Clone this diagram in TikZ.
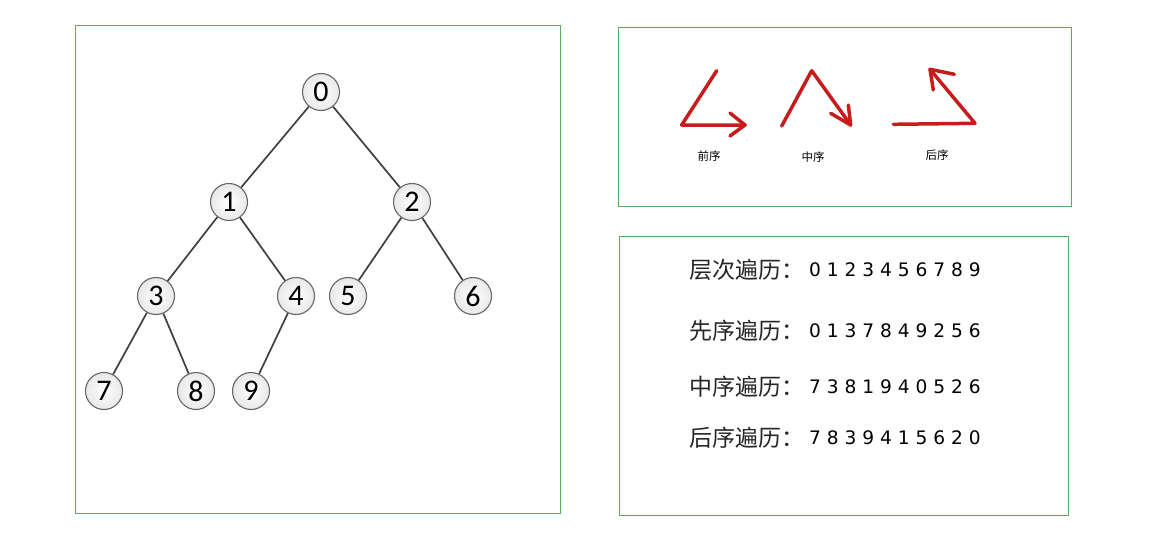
\documentclass[tikz,border=0pt]{standalone}
\usepackage{fontspec}
\newfontfamily\cjk{Noto Sans CJK SC}
\newfontfamily\numfont{Carlito}
\newfontfamily\dvs{DejaVu Sans}
\definecolor{boxgreen}{RGB}{90,175,95}
\definecolor{arrowred}{RGB}{200,28,28}
\tikzset{
  panel/.style={draw=boxgreen, line width=1pt},
  tnode/.style={circle, minimum size=37pt, inner sep=0pt, draw=black!60, line width=1.1pt,
    inner color=white, outer color=black!9, font=\numfont\fontsize{30}{30}\selectfont},
  tedge/.style={draw=black!75, line width=1.7pt},
  redstroke/.style={draw=arrowred, line width=3.5pt, line cap=round, line join=round},
  order/.style={inner sep=0pt, font=\cjk\fontsize{11.5}{13}\selectfont},
  travlabel/.style={anchor=west, inner sep=0pt, font=\cjk\fontsize{23}{25}\selectfont, text=black!85},
  travnums/.style={anchor=west, inner sep=0pt, font=\dvs\fontsize{18.6}{20}\selectfont}
}
\begin{document}
\begin{tikzpicture}[x=1pt,y=-1pt]
\useasboundingbox[fill=white] (0,0) rectangle (1169,539);
% panels
\draw[panel] (75,25) rectangle (560,513);
\draw[panel] (618,27) rectangle (1071,206);
\draw[panel] (619,236) rectangle (1068,515);
% tree
\node[tnode] (n0) at (321,92) {0};
\node[tnode] (n1) at (229,202) {1};
\node[tnode] (n2) at (412,202) {2};
\node[tnode] (n3) at (156,296) {3};
\node[tnode] (n4) at (296,296) {4};
\node[tnode] (n5) at (348,296) {5};
\node[tnode] (n6) at (473,296) {6};
\node[tnode] (n7) at (104,391) {7};
\node[tnode] (n8) at (196,391) {8};
\node[tnode] (n9) at (251,391) {9};
\draw[tedge] (n0) -- (n1);
\draw[tedge] (n0) -- (n2);
\draw[tedge] (n1) -- (n3);
\draw[tedge] (n1) -- (n4);
\draw[tedge] (n2) -- (n5);
\draw[tedge] (n2) -- (n6);
\draw[tedge] (n3) -- (n7);
\draw[tedge] (n3) -- (n8);
\draw[tedge] (n4) -- (n9);
% traversal order sketches
\draw[redstroke] (716.7,70.7) -- (681.7,125) -- (745,125);
\draw[redstroke] (730,113) -- (745,125) -- (730,136);
\draw[redstroke] (781.7,126) -- (811.7,70.7) -- (850.7,125);
\draw[redstroke] (830.7,113.3) -- (850.7,125) -- (848.3,105);
\draw[redstroke] (893.3,124.3) -- (975,123.3) -- (930,69.3);
\draw[redstroke] (954.3,74.3) -- (930,69.3) -- (933.3,90);
\node[order] (pre) at (709,156) {前序};
\node[order] (mid) at (813,157) {中序};
\node[order] (post) at (937,155) {后序};
% traversal results
\node[travlabel] (l1) at (689,270) {层次遍历：};
\node[travnums] (d1) at (809,270) {0 1 2 3 4 5 6 7 8 9};
\node[travlabel] (l2) at (689,331) {先序遍历：};
\node[travnums] (d2) at (809,331) {0 1 3 7 8 4 9 2 5 6};
\node[travlabel] (l3) at (689,387) {中序遍历：};
\node[travnums] (d3) at (809,387) {7 3 8 1 9 4 0 5 2 6};
\node[travlabel] (l4) at (689,438) {后序遍历：};
\node[travnums] (d4) at (809,438) {7 8 3 9 4 1 5 6 2 0};
\end{tikzpicture}
\end{document}
